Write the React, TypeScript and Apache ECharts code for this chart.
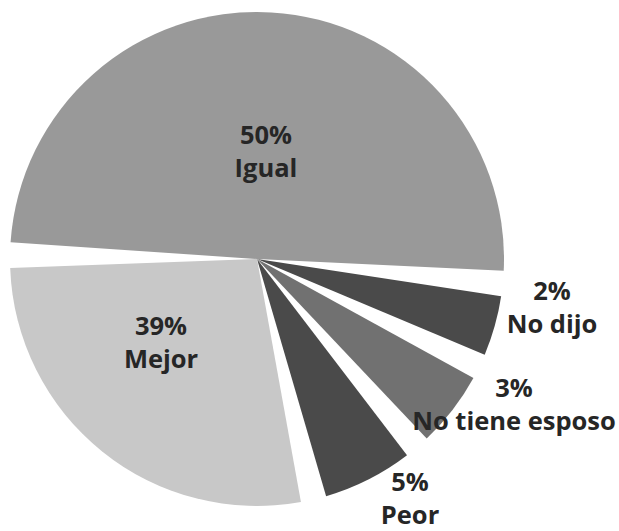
import React, { useEffect, useRef } from "react";
import * as echarts from "echarts";

// Categories in clockwise order, starting from the left edge of the top slice
const categories = ["Igual", "No dijo", "No tiene esposo", "Peor", "Mejor"];
// Percentages printed on the chart
const percentLabels = [50, 2, 3, 5, 39];
// Slice sizes as drawn in the picture (degrees of the circle, incl. gap)
const drawnShares = [184.8, 20.1, 23.8, 27.15, 104.15];
const sliceColors = ["#999999", "#4a4a4a", "#717171", "#4a4a4a", "#c8c8c8"];

// label centres (layout only)
const labelCenters: [number, number][] = [
  [266, 150],
  [552, 306],
  [514, 403],
  [410, 497],
  [161, 341],
];

export default function App() {
  const ref = useRef<HTMLDivElement>(null);
  useEffect(() => {
    if (!ref.current) return;
    const chart = echarts.init(ref.current, null, { renderer: "svg" });
    chart.setOption({
      animation: false,
      backgroundColor: "#ffffff",
      series: [
        {
          type: "pie",
          silent: true,
          center: [257, 259],
          radius: [0, 247],
          startAngle: 179.1,
          clockwise: true,
          padAngle: 6,
          avoidLabelOverlap: false,
          labelLine: { show: false },
          emphasis: { disabled: true },
          label: {
            show: true,
            position: "inside",
            fontFamily: "Open Sans",
            fontWeight: "bold",
            fontSize: 25.5,
            lineHeight: 33,
            color: "#262626",
            align: "center",
            formatter: (p: any) => `${percentLabels[p.dataIndex]}%\n${p.name}`,
          },
          labelLayout: (p: any) => ({
            x: labelCenters[p.dataIndex][0],
            y: labelCenters[p.dataIndex][1],
            align: "center",
            verticalAlign: "middle",
          }),
          data: categories.map((c, i) => ({
            name: c,
            value: drawnShares[i],
            itemStyle: { color: sliceColors[i], borderWidth: 0 },
          })),
        },
      ],
    });
    return () => chart.dispose();
  }, []);
  return (
    <div
      ref={ref}
      style={{ position: "fixed", left: 0, top: 0, width: 619, height: 531 }}
    />
  );
}
